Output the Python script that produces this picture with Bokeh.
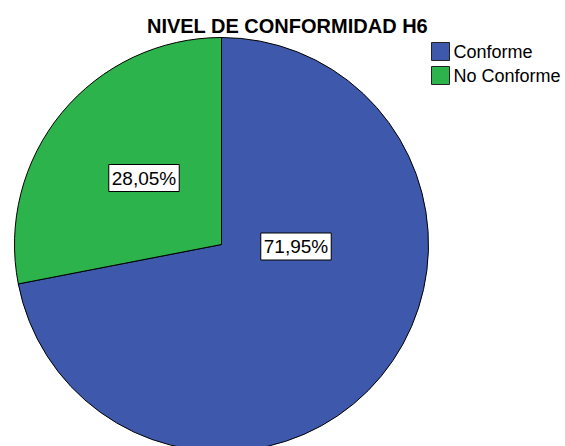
import math
from bokeh.plotting import figure
from bokeh.models import Range1d, ColumnDataSource, Label
from bokeh.core.properties import value
from bokeh.embed import file_html
from bokeh.resources import INLINE

title_text = "NIVEL DE CONFORMIDAD H6"
categories = ["Conforme", "No Conforme"]
percentages = [71.95, 28.05]
colors = ["#3E58AC", "#2DB34B"]
label_texts = ["71,95%", "28,05%"]

W, H = 565, 446
p = figure(width=W, height=H, output_backend="svg", toolbar_location=None,
           x_range=Range1d(0, W), y_range=Range1d(0, H), min_border=0,
           outline_line_color=None)
p.axis.visible = False
p.grid.visible = False
p.background_fill_color = "white"
p.border_fill_color = "white"

cx, cy, R = 221, 202, 207
# angles: start at top, clockwise
total = sum(percentages)
starts, ends = [], []
cur = math.pi / 2
for v in percentages:
    a = 2 * math.pi * v / total
    ends.append(cur)
    starts.append(cur - a)
    cur -= a
src = ColumnDataSource(dict(x=[cx] * 2, y=[cy] * 2, start=starts, end=ends,
                            color=colors, cat=categories))
p.wedge(x="x", y="y", radius=R, start_angle="start", end_angle="end",
        fill_color="color", line_color="black", line_width=1, source=src)

# percentage labels
label_pos = [(295.5, 200), (143.5, 268.5)]
for (lx, ly), t in zip(label_pos, label_texts):
    p.add_layout(Label(x=lx, y=ly, text=t, text_align="center", text_baseline="middle",
                       text_font="Liberation Sans", text_font_size="19px", text_color="black",
                       background_fill_color="white", border_line_color="black",
                       border_line_width=1, padding=3))

# title
p.add_layout(Label(x=287, y=421, text=title_text, text_align="center",
                   text_baseline="middle", text_font="Liberation Sans",
                   text_font_style="bold", text_font_size="20px", text_color="black"))

# legend
leg_x, leg_y0, leg_step = 440, 395, 24
leg = ColumnDataSource(dict(x=[leg_x] * 2, y=[leg_y0 - i * leg_step for i in range(2)],
                            tx=[leg_x + 13] * 2, color=colors, cat=categories))
p.rect(x="x", y="y", width=18, height=18, fill_color="color", line_color="#222222",
       line_width=1, source=leg)
p.text(x="tx", y="y", text="cat", text_font=value("Liberation Sans"), text_font_size="18px",
       text_baseline="middle", text_align="left", text_color="black", source=leg)

open("out.html", "w").write(file_html(p, INLINE))
